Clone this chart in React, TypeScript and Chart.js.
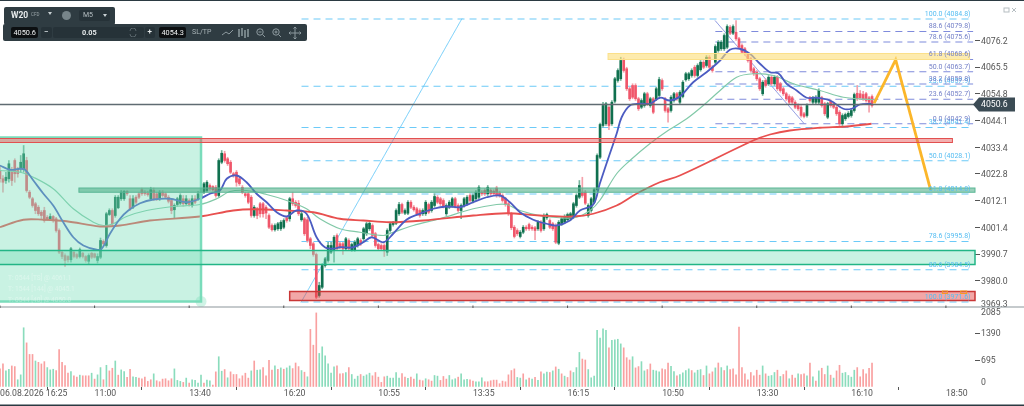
import React, { useEffect, useRef } from "react";
import { Chart, registerables } from "chart.js";

Chart.register(...registerables);

const opens = [
4024.2,4020.9,4020.2,4020.9,4023.5,4028.2,4024.2,4024.9,4024.9,4028.2,
4015.5,4012.9,4010.9,4009.5,4007.5,4008.2,4005.5,4004.9,4005.8,4004.9,
4000.2,3991.5,3990.2,3989.8,3988.5,3991.5,3990.6,3989.8,3991.1,3989.8,
3987.9,3991.1,3990.9,3988.2,3989.5,3995.9,3994.2,4006.6,4008.2,4006.2,
4009.3,4012.9,4012.9,4015.8,4012.9,4009.5,4013.5,4014.9,4016.5,4015.5,
4015.2,4012.9,4016.2,4014.9,4012.9,4015.5,4014.9,4013.5,4012.2,4008.5,
4010.6,4011.1,4012.9,4010.9,4012.2,4010.2,4012.9,4012.9,4013.5,4015.5,
4016.2,4018.2,4017.8,4017.5,4014.2,4027.5,4030.9,4028.9,4027.5,4022.9,
4023.5,4020.9,4017.5,4014.9,4014.9,4013.5,4006.2,4008.9,4010.9,4010.9,
4009.5,4006.2,4002.2,4000.5,4000.9,4000.9,4001.5,4005.3,4004.9,4012.9,
4011.5,4011.1,4004.5,4004.9,4004.5,3996.9,3994.9,3990.6,3974.2,3977.5,
3986.2,3988.2,3991.5,3992.2,3998.2,3994.9,3994.9,3992.9,3996.2,3992.5,
3992.5,3994.2,3996.2,3996.9,3998.9,4000.9,4002.2,3998.9,3994.6,3994.2,
3994.2,3991.5,4000.2,4002.6,4003.1,4006.9,4010.6,4007.1,4007.1,4011.5,
4009.5,4008.9,4008.2,4006.9,4006.9,4010.6,4008.2,4010.2,4013.5,4012.9,
4012.2,4006.9,4009.5,4010.2,4012.9,4010.2,4008.2,4010.2,4010.9,4014.2,
4011.9,4012.9,4013.5,4015.5,4016.2,4014.9,4016.2,4015.9,4017.2,4015.2,
4014.2,4012.9,4010.9,4006.9,4001.5,4000.2,3997.8,3999.5,4001.5,4002.6,
4001.5,4001.3,4000.9,4003.5,4000.9,4005.3,4004.2,4002.9,4002.2,3995.1,
4002.9,4003.5,4004.5,4004.9,4005.5,4010.2,4013.5,4015.5,4015.5,4006.2,
4008.2,4011.5,4016.5,4029.5,4042.2,4042.9,4049.5,4042.9,4051.9,4060.2,
4060.9,4068.5,4064.9,4056.9,4058.2,4058.2,4052.9,4049.5,4050.2,4054.9,
4050.2,4052.9,4052.9,4054.2,4060.2,4052.9,4048.9,4048.2,4052.2,4054.9,
4051.5,4053.8,4060.5,4060.9,4062.2,4065.5,4062.2,4064.5,4067.5,4066.2,
4069.5,4065.5,4067.5,4072.2,4072.9,4072.9,4073.5,4081.5,4079.1,4079.5,
4076.9,4074.2,4072.9,4070.9,4068.9,4064.9,4063.5,4060.9,4054.9,4060.2,
4058.9,4061.5,4058.9,4061.5,4058.9,4056.9,4054.9,4053.8,4053.3,4051.5,
4050.2,4049.5,4046.9,4046.2,4053.3,4051.5,4051.5,4051.5,4053.3,4050.9,
4045.5,4051.9,4050.9,4049.5,4047.5,4042.9,4044.9,4045.8,4046.2,4048.2,
4055.1,4054.9,4054.6,4054.9,4053.3,4053.8];

const closes = [
4020.9,4019.5,4021.5,4026.9,4020.2,4022.9,4022.9,4027.5,4030.9,4016.2,
4013.5,4010.2,4008.2,4006.9,4006.2,4004.2,4004.9,4005.8,4004.5,4000.2,
3991.5,3989.8,3988.2,3988.5,3992.9,3989.8,3989.5,3992.5,3989.8,3988.2,
3990.2,3989.5,3989.5,3989.8,3996.2,3994.9,4006.9,4008.2,4002.9,4013.5,
4013.5,4015.5,4015.8,4014.9,4008.9,4012.9,4011.5,4013.5,4014.9,4014.9,
4014.5,4016.5,4012.9,4012.9,4015.5,4014.2,4013.5,4011.9,4008.2,4010.2,
4012.9,4014.2,4010.9,4012.9,4010.6,4012.9,4011.5,4014.9,4015.5,4018.9,
4019.5,4016.9,4016.5,4014.2,4028.2,4031.1,4028.2,4026.9,4023.5,4022.2,
4019.5,4018.9,4015.5,4014.2,4011.5,4006.2,4009.5,4006.2,4006.9,4006.9,
4007.2,4001.5,4000.5,4002.2,4002.9,4003.5,4004.2,4004.2,4012.9,4010.9,
4010.2,4006.9,4006.9,3998.9,3996.2,3994.2,3990.6,3973.5,3978.2,3986.2,
3988.9,3994.2,3994.2,3997.5,3992.9,3993.5,3992.9,3996.9,3992.9,3994.6,
3995.5,3996.9,3994.9,4000.9,4002.9,4003.1,3998.2,3994.2,3992.9,3992.9,
3992.2,4000.2,4002.9,4003.1,4008.2,4010.6,4007.5,4008.2,4011.5,4009.5,
4008.5,4006.9,4006.2,4008.2,4011.5,4007.5,4011.5,4013.8,4011.5,4010.9,
4009.8,4010.2,4011.5,4012.9,4009.8,4008.2,4010.2,4012.9,4013.5,4012.2,
4014.2,4015.5,4017.5,4014.9,4014.9,4017.5,4014.9,4014.9,4014.2,4014.2,
4012.2,4010.6,4006.9,4001.3,3997.8,3998.9,3999.5,4001.5,4000.9,4000.9,
4000.9,4000.2,4003.5,4000.2,4006.2,4006.6,4001.5,4000.9,3995.5,4003.5,
4004.9,4005.8,4006.6,4006.9,4010.9,4014.2,4018.2,4014.2,4011.1,4010.2,
4012.9,4016.5,4030.2,4042.6,4050.2,4050.9,4042.2,4051.5,4060.9,4064.2,
4068.2,4064.2,4056.9,4052.9,4053.5,4052.9,4048.9,4052.2,4054.9,4050.9,
4052.9,4047.5,4056.9,4060.6,4056.9,4048.2,4047.5,4053.5,4054.9,4052.9,
4055.5,4059.5,4062.9,4062.9,4064.2,4062.2,4066.2,4067.5,4065.5,4069.5,
4065.5,4064.2,4073.8,4075.5,4075.5,4078.2,4081.8,4079.1,4081.8,4076.9,
4073.5,4071.5,4070.9,4068.2,4064.2,4062.9,4060.9,4056.9,4059.5,4058.2,
4061.5,4058.9,4061.5,4056.9,4056.2,4054.9,4052.9,4051.5,4051.5,4049.5,
4048.9,4046.2,4045.8,4050.2,4052.2,4053.3,4053.5,4056.2,4050.2,4046.9,
4050.9,4050.2,4049.5,4046.9,4042.9,4046.2,4046.6,4047.1,4048.2,4054.6,
4052.9,4053.3,4052.9,4052.2,4051.5,4050.2];

const highs = [
4026.2,4022.2,4023.5,4028.2,4025.5,4028.9,4025.5,4030.2,4034.2,4029.5,
4016.2,4013.5,4011.5,4010.2,4008.2,4009.5,4006.2,4006.9,4006.2,4005.5,
4000.9,3992.2,3990.9,3990.2,3993.5,3992.2,3991.2,3993.2,3991.5,3990.2,
3990.9,3991.5,3991.2,3990.9,3997.2,3996.5,4007.5,4008.9,4008.9,4014.2,
4014.2,4016.2,4016.2,4016.2,4014.2,4014.2,4014.2,4015.5,4017.2,4016.2,
4015.9,4017.5,4017.2,4015.5,4016.2,4016.2,4015.5,4014.2,4012.9,4010.9,
4013.5,4014.9,4014.2,4014.2,4012.9,4014.2,4014.2,4015.9,4016.2,4019.5,
4020.2,4018.9,4018.2,4018.2,4028.9,4032.2,4031.9,4029.5,4028.2,4023.5,
4024.2,4021.5,4018.2,4015.5,4015.5,4014.2,4010.2,4009.5,4011.5,4011.5,
4010.2,4006.9,4002.9,4002.9,4003.5,4004.2,4004.9,4005.9,4013.5,4015.5,
4012.2,4012.2,4007.5,4005.5,4005.5,3997.5,3995.5,3991.2,3979.5,3986.9,
3989.5,3995.5,3995.5,3998.2,3998.9,3995.5,3995.5,3997.5,3996.9,3995.2,
3996.2,3997.5,3996.9,4001.5,4003.5,4003.9,4002.9,3999.5,3995.2,3994.9,
3994.9,4000.9,4003.5,4003.9,4008.9,4011.5,4011.2,4008.9,4012.2,4012.2,
4010.2,4009.5,4008.9,4008.9,4012.2,4011.2,4012.2,4014.9,4014.2,4013.5,
4012.9,4010.9,4012.2,4013.5,4013.5,4010.9,4010.9,4013.5,4014.2,4014.9,
4014.9,4016.2,4018.2,4016.2,4016.9,4018.2,4016.9,4016.5,4017.9,4015.9,
4014.9,4013.5,4011.5,4007.5,4002.2,4000.9,4000.2,4002.2,4002.2,4003.2,
4002.2,4001.9,4004.2,4004.2,4006.9,4007.2,4004.9,4003.5,4002.9,4004.2,
4005.5,4006.5,4007.2,4007.5,4011.5,4014.9,4020.2,4021.5,4016.2,4010.9,
4013.5,4017.2,4030.9,4043.2,4051.5,4051.5,4050.2,4052.2,4061.5,4064.9,
4069.5,4069.2,4065.5,4057.5,4058.9,4058.9,4053.5,4052.9,4055.5,4055.5,
4053.5,4053.5,4057.5,4061.5,4060.9,4053.5,4049.5,4054.2,4055.5,4055.5,
4056.2,4060.2,4063.5,4063.5,4064.9,4066.2,4066.9,4068.2,4068.2,4070.2,
4070.2,4066.2,4074.5,4076.2,4076.2,4078.9,4082.5,4082.2,4082.5,4084.2,
4077.5,4074.9,4073.5,4071.5,4069.5,4065.5,4064.2,4061.5,4060.2,4060.9,
4062.2,4062.2,4062.2,4062.2,4059.5,4057.5,4055.5,4054.5,4053.9,4052.2,
4050.9,4050.2,4047.5,4050.9,4053.9,4053.9,4054.2,4056.9,4053.9,4051.5,
4051.5,4052.5,4051.5,4050.2,4048.2,4046.9,4047.2,4047.8,4048.9,4055.2,
4058.2,4056.2,4055.9,4055.5,4053.9,4054.5];

const lows = [
4019.5,4015.5,4019,4019.5,4018.2,4019.5,4021.5,4023.5,4023.5,4015.5,
4012.9,4009.5,4006.9,4006.2,4004.9,4003.5,4004.2,4004.2,4003.5,3999.5,
3990.9,3988.9,3985.8,3987.5,3987.5,3989.2,3988.9,3989.2,3989.2,3987.5,
3986.9,3988.9,3989.2,3987.2,3988.9,3994.2,3993.5,4006.2,4002.2,4005.5,
4008.9,4012.2,4012.2,4014.2,4008.2,4008.9,4010.9,4012.9,4014.2,4014.2,
4013.9,4012.2,4012.2,4012.2,4012.2,4013.5,4012.9,4011.2,4006.9,4005.3,
4009.9,4010.5,4009.9,4010.2,4009.9,4009.5,4010.9,4012.2,4012.9,4014.9,
4015.5,4016.2,4015.9,4013.5,4013.5,4026.9,4027.5,4026.2,4022.9,4021.5,
4017.9,4018.2,4014.9,4013.5,4010.9,4005.5,4005.5,4004.9,4005.5,4005.5,
4004.9,4000.9,3999.9,3999.9,4000.2,4000.2,4000.9,4003.5,4003.9,4010.2,
4009.5,4006.2,4003.9,3998.2,3995.5,3992.9,3989.9,3972.9,3973.5,3976.9,
3985.5,3987.5,3990.9,3987.5,3992.2,3992.9,3990.6,3992.2,3992.2,3991.9,
3991.9,3993.5,3994.2,3996.2,3998.2,4000.2,3997.5,3993.5,3992.2,3992.2,
3989.8,3990.2,3999.5,4001.9,4002.5,4006.2,4006.9,4006.5,4006.5,4008.9,
4007.9,4006.2,4005.5,4006.2,4006.2,4006.9,4007.5,4009.5,4010.9,4010.2,
4009.2,4006.2,4008.9,4009.5,4009.2,4007.5,4004.9,4009.5,4010.2,4011.5,
4011.2,4012.2,4012.9,4014.2,4014.2,4014.2,4014.2,4014.2,4013.5,4013.5,
4011.5,4009.9,4006.2,4000.5,3997.2,3998.2,3997.2,3998.9,4000.2,4000.2,
4000.2,3996.5,4000.2,3999.5,4000.2,4004.6,4000.9,4000.2,3994.9,3994.5,
4002.2,4002.9,4003.9,4004.2,4004.9,4009.5,4012.9,4013.5,4010.5,4005.5,
4007.5,4010.9,4015.9,4028.9,4041.5,4042.2,4040.5,4042.2,4051.2,4059.5,
4060.2,4063.5,4056.2,4052.2,4052.9,4052.2,4048.2,4048.9,4049.5,4050.2,
4049.5,4046.9,4052.2,4053.5,4056.2,4047.5,4043.5,4047.5,4051.5,4052.2,
4050.9,4053.2,4059.9,4060.2,4061.5,4061.5,4061.5,4063.9,4064.9,4065.5,
4064.9,4063.5,4066.9,4071.5,4072.2,4072.2,4072.9,4078.5,4078.5,4076.2,
4072.9,4070.9,4070.2,4067.5,4063.5,4062.2,4060.2,4056.2,4054.2,4057.5,
4058.2,4058.2,4058.2,4056.2,4055.5,4054.2,4052.2,4050.9,4050.9,4048.9,
4048.2,4045.5,4045.2,4045.5,4051.5,4050.9,4050.9,4050.9,4049.5,4046.2,
4044.9,4049.5,4048.9,4046.2,4042.2,4042.2,4044.2,4045.2,4045.5,4047.5,
4052.2,4052.5,4052.2,4051.5,4047.5,4049.5];

const volumes = [
472,601,420,463,549,532,189,317,1544,1150,849,849,678,643,601,661,506,446,463,429,
978,643,558,360,403,292,257,309,292,292,292,360,206,317,506,189,566,420,489,678,
309,446,403,249,463,266,249,232,215,257,146,189,343,163,137,206,215,163,215,472,
172,146,120,232,103,189,172,103,309,103,180,163,51,395,789,412,455,240,395,326,
326,215,292,360,232,420,678,438,446,506,292,695,438,549,463,498,463,498,549,480,
626,532,429,386,266,1502,1090,1931,875,1047,815,601,360,523,549,
343,352,378,506,326,206,283,326,283,317,360,292,378,257,120,266,283,232,232,378,
232,352,257,223,257,206,343,180,163,215,189,154,300,283,172,275,206,300,189,215,
257,343,189,197,189,154,137,137,240,137,137,163,180,180,86,154,137,317,429,472,
249,232,343,189,232,206,249,172,395,343,386,378,420,523,463,343,283,249,420,378,
506,901,729,704,455,240,283,1476,1278,1519,1476,1021,1218,1227,1244,1124,1021,764,704,789,
498,532,661,420,455,601,438,420,395,472,455,626,541,403,292,
326,369,429,472,429,369,438,455,300,549,343,395,498,626,506,429,549,455,472,317,
1562,506,343,189,378,292,438,309,549,343,283,300,378,438,275,326,420,215,309,232,
343,326,343,292,626,266,154,420,489,326,549,309,232,420,566,360,378,300,257,438,
506,266,455,343,489,626];

const volumeDirs =
  "rrggrrgggr" + "rrgrrrgggr" + "rrrrgrrgrr" + "rgrggrgrrg" + "rggrrggrrr" +
  "rrgrrrrrrg" + "ggrgrggggr" + "ggrrggrgrr" + "rrrrrgrggr" + "rrrgrgrggr" +
  "rrgrgrrrgg" + "ggggr" +
  "rrgrgggrgg" + "grrrrrgggg" + "grrgrrgrrg" + "rrggrrrggg" + "rgggrrgggr" +
  "rrrrrrrrrr" + "ggrgrgrgrg" + "grgrgrgrrg" + "ggrrgggggg" + "grggggrrrg" +
  "rrggrrgggr" + "rrggr" +
  "ggggrgggrg" + "rrgrgrgrrr" + "rrrrrrrrgr" + "gggrgrrgrr" + "grrgrgrgrr" +
  "grgrrggggg" + "rrrrrr";

const fastX = [0,3.4,6.8,8.5,11.3,14.7,18,21.4,24.8,28.2,32.7,34.4,37.2,40.6,43.4,47.4,51.9,57.5,63.1,67.6,71,74.4,76.7,80,83.4,86.8,90.2,93.6,97,100.3,103.7,107.1,109.9,112.7,115,119.5,122.9,125.7,129.7,133,137.5,142,146.6,151,155.6,160.1,164.6,169.1,172.5,175.9,180.4,184.9,188.3,192.8,196.2,200.7,202.9,206.3,208.6,210.3,213.1,216.5,219.9,223.3,226.6,230,234.5,239,243.6,246.9,250.3,253.7,257.1,260.5,263.3,266.1,269.5,272.9,276.2,280.8,285.3,288.1,290.9,294.8];
const fastY = [4026.2,4024.5,4024.9,4024.5,4020.2,4014.9,4010.2,4003.5,3997.5,3994.2,3992.5,3992.9,3998.9,4004.9,4008.2,4011.1,4012.6,4012.9,4011.5,4012.9,4014.9,4016.2,4020.9,4022.2,4019.5,4014.9,4011.5,4007.5,4005.8,4008.2,4006.9,3997.5,3993.5,3992.9,3993.5,3993.5,3995.5,3997.5,3995.5,3998.9,4004.5,4006.9,4008.9,4009.8,4009.5,4011.5,4013.5,4014.2,4011.5,4007.5,4004.5,4002.9,4002.2,4004.2,4008.2,4010.6,4018.9,4030.9,4038.9,4045.5,4050.2,4050.9,4050.9,4053.3,4052.2,4053.8,4059.5,4063.5,4068.2,4072.5,4072.9,4070.9,4066.9,4063.5,4063.1,4058.9,4056.2,4053.3,4053.3,4052.2,4048.9,4048.9,4050.6,4050.9];

const midX = [0,6.8,11.3,18,24.8,31.6,35,38.3,42.8,49.6,58.6,67.6,73.3,77.8,83.4,90.2,97,103.7,108.2,115,121.8,129.7,133,139.8,148.8,160.1,168,171.4,175.9,182.6,189.4,195,199.6,202.9,208.6,213.1,219.8,226,232.3,237.9,243.6,249.2,254.8,261.6,268.4,277.4,285.3,295.4];
const midY = [4024.2,4023.5,4021.5,4016.9,4008.9,4003.5,4002.2,4002.9,4005.8,4008.2,4009.8,4010.6,4012.9,4015.8,4016.2,4014.6,4012.2,4008.9,4004.9,4000.9,3999.5,3998.2,3999.5,4002.2,4004.9,4008.9,4010.6,4010.6,4008.2,4006.2,4005.3,4005.5,4008.2,4012.2,4022.9,4028.2,4034.9,4040.2,4044.9,4050.2,4056.2,4061.5,4062.9,4062.2,4058.9,4056.2,4053.5,4052.5];

const slowX = [0,7.9,14.7,22.5,33.8,40.6,50.7,67.6,78.9,85.7,97,106,115,122.9,131.9,143.2,160.1,171.4,182.6,193.9,200.7,208.6,215.3,223.2,230,254.8,260.5,267.2,277.4,286.4,294.8];
const slowY = [4001.5,4004.5,4004.5,4003.9,4001.8,4002.2,4004.2,4005.8,4008.2,4008.7,4008.2,4007.5,4004.9,4004.2,4003.5,4004.2,4006.2,4007.1,4006.2,4005.8,4006.9,4010.2,4014.9,4019.5,4022.2,4036.2,4038.6,4040.2,4041.3,4041.8,4042.9];

const forecastX = [295.7, 303, 314.8];
const forecastY = [4051.1, 4068.5, 4016.5];

const priceTicks = [4076.2,4065.5,4054.8,4044.1,4033.4,4022.8,4012.1,4001.4,3990.7,3980.0,3969.3];
const volumeTicks = [2085,1390,695,0];
const timeTicks = [0,32,64,96,128,160,192,224,256,288,320];
const timeLabels = ["06.08.2026 16:25","11:00","13:40","16:20","10:55","13:35","16:15","10:50","13:30","16:10","18:50"];

const skyLevels = ["100.0","61.8","50.0","38.2","23.6","78.6","88.6","100.0"];
const skyPrices = [4084.8,4014.8,4028.1,4041.4,4057.9,3995.8,3984.5,3971.6];
const periLevels = ["88.6","78.6","61.8","50.0","38.2","23.6","0.0"];
const periPrices = [4079.8,4075.6,4068.6,4063.7,4058.8,4052.7,4042.9];
const positionNotes = ["T: 0544 [TS] @ 4061.1", "T: 1544 [144] @ 4045.1", "T: 0544 [40] @ 4050.0"];

const lastPrice = 4050.6;
const GREEN = "#10704f", RED = "#f0566a", GREEN_W = "#74b49c", RED_W = "#f4a0aa";
const SKY = "#6ccaf8", PERI = "#7f8bdc";
const PX_PER_BAR = 2.956;
const X_MAX = 975 / PX_PER_BAR;

const rects = [
  { x0: -3, x1: 68, y0: 4037.4, y1: 3971.8, fill: "rgba(120,222,184,0.40)", stroke: "#7adcbb", lw: 2.5 },
  { x0: -3, x1: 322.2, y0: 4037, y1: 4035.4, fill: "rgba(226,80,80,0.45)", stroke: "#e25050", lw: 1 },
  { x0: 26.7, x1: X_MAX, y0: 4017.2, y1: 4015.5, fill: "rgba(70,170,130,0.55)", stroke: "#5ab795", lw: 1 },
  { x0: -3, x1: X_MAX, y0: 3992.2, y1: 3986.6, fill: "rgba(120,222,184,0.40)", stroke: "#22b586", lw: 1.5 },
  { x0: 98, x1: X_MAX, y0: 3975.8, y1: 3972.2, fill: "rgba(226,60,60,0.45)", stroke: "#c93636", lw: 1.5 },
  { x0: 205.7, x1: 328, y0: 4071, y1: 4068.6, fill: "rgba(252,222,120,0.6)", stroke: "#fbe08a", lw: 1 },
];

const overlayPlugin = {
  id: "overlay",
  beforeDraw(chart: any) {
    const shifts: Record<string, [string, number]> = {
      "3969.3": ["yPrice", -2.8],
      "2085": ["yVol", 5.7],
      "0": ["yVol", -4],
    };
    for (const id of ["yPrice", "yVol"]) {
      const scale = chart.scales[id];
      for (const item of scale.getLabelItems(chart.chartArea)) {
        const s = shifts[item.label];
        const base = scale.getPixelForValue(Number(item.label));
        if (s && s[0] === id) {
          item.options.translation[1] = base + s[1];
        } else if (id === "yPrice") {
          item.options.translation[1] = base + 1;
        }
      }
    }
  },
  afterDatasetsDraw(chart: any) {
    const { ctx } = chart;
    const x = chart.scales.x, y = chart.scales.yPrice;
    ctx.save();
    ctx.beginPath();
    ctx.rect(0, 0, chart.width, chart.height);
    ctx.clip();
    for (const r of rects) {
      const px0 = x.getPixelForValue(r.x0), px1 = x.getPixelForValue(r.x1);
      const py0 = y.getPixelForValue(r.y0), py1 = y.getPixelForValue(r.y1);
      ctx.fillStyle = r.fill;
      ctx.fillRect(px0, py0, px1 - px0, py1 - py0);
      ctx.strokeStyle = r.stroke;
      ctx.lineWidth = r.lw;
      ctx.strokeRect(px0, py0, px1 - px0, py1 - py0);
    }
    // selection handle at the zone's corner
    ctx.fillStyle = "rgba(120,222,184,0.35)";
    ctx.beginPath();
    ctx.arc(x.getPixelForValue(68), y.getPixelForValue(3971.8), 5.5, 0, Math.PI * 2);
    ctx.fill();
    // notes inside the zone
    ctx.font = "6.5px Roboto";
    ctx.textAlign = "left";
    ctx.textBaseline = "middle";
    ctx.fillStyle = "rgba(255,255,255,0.35)";
    positionNotes.forEach((n, i) => ctx.fillText(n, 8, 278 + i * 11));
    // last price line
    const py = y.getPixelForValue(lastPrice);
    ctx.strokeStyle = "#5f6b72";
    ctx.lineWidth = 1.6;
    ctx.beginPath();
    ctx.moveTo(0, py);
    ctx.lineTo(x.right, py);
    ctx.stroke();
    // fib labels
    ctx.font = "7px Roboto";
    ctx.textAlign = "right";
    ctx.fillStyle = "#55bdf2";
    skyLevels.forEach((l, i) => {
      ctx.fillText(`${l} (${skyPrices[i].toFixed(1)})`, 970.5, y.getPixelForValue(skyPrices[i]) - 5);
    });
    ctx.fillStyle = "#7480c8";
    periLevels.forEach((l, i) => {
      ctx.fillText(`${l} (${periPrices[i].toFixed(1)})`, 970.5, y.getPixelForValue(periPrices[i]) - 5);
    });
    // orange order markers on the lower red band
    ctx.strokeStyle = "#f59a23";
    ctx.lineWidth = 1;
    ctx.strokeRect(x.getPixelForValue(318.8), y.getPixelForValue(3976), 5, 2.5);
    ctx.strokeRect(x.getPixelForValue(325), y.getPixelForValue(3976), 6, 2.5);
    // pane divider with x ticks
    const paneY = y.bottom;
    ctx.strokeStyle = "#8b959a";
    ctx.lineWidth = 1;
    ctx.beginPath();
    ctx.moveTo(0, paneY);
    ctx.lineTo(chart.width, paneY);
    ctx.stroke();
    ctx.strokeStyle = "#555";
    for (const t of timeTicks) {
      const tx = x.getPixelForValue(t);
      ctx.beginPath();
      ctx.moveTo(tx, paneY - 1.5);
      ctx.lineTo(tx, paneY + 1);
      ctx.stroke();
    }
    // last price tag
    ctx.fillStyle = "#3b4b54";
    ctx.beginPath();
    ctx.moveTo(973, py);
    ctx.lineTo(979, py - 7);
    ctx.lineTo(1015, py - 7);
    ctx.lineTo(1015, py + 7);
    ctx.lineTo(979, py + 7);
    ctx.closePath();
    ctx.fill();
    ctx.fillStyle = "#fff";
    ctx.font = "8.7px Roboto";
    ctx.textAlign = "left";
    ctx.fillText(lastPrice.toFixed(1), 981, py + 0.5);
    // frame
    ctx.fillStyle = "#2b3a42";
    ctx.fillRect(0, 0, chart.width, 1);
    ctx.fillRect(0, chart.height - 1.5, chart.width, 1.5);
    ctx.restore();
  },
};

function Toolbar() {
  const base: React.CSSProperties = { position: "absolute", fontFamily: "Roboto, sans-serif", lineHeight: 1, whiteSpace: "nowrap" };
  const box = (l: number, t: number, w: number, h: number, bg: string): React.CSSProperties => ({
    ...base, left: l, top: t, width: w, height: h, background: bg, borderRadius: 2,
  });
  const label = (l: number, t: number, size: number, color: string, bold = false): React.CSSProperties => ({
    ...base, left: l, top: t, fontSize: size, color, fontWeight: bold ? 700 : 400,
  });
  const tri = (l: number, t: number): React.CSSProperties => ({
    ...base, left: l, top: t, width: 0, height: 0,
    borderLeft: "2.5px solid transparent", borderRight: "2.5px solid transparent", borderTop: "3px solid #c8d0d3",
  });
  const icon = { stroke: "#8d9a9f", fill: "none", strokeWidth: 1 };
  return (
    <>
      <div style={box(4, 7, 111, 18, "#2f3c42")} />
      <div style={box(3, 24, 304, 17, "#2f3c42")} />
      <span style={label(11, 11, 8.5, "#e6eaeb", true)}>W20</span>
      <span style={label(31, 13, 4.5, "#9aa5a9")}>CFD</span>
      <div style={tri(48, 12)} />
      <div style={{ ...box(62, 11, 9, 9, "#77858a"), borderRadius: "50%" }} />
      <div style={box(79, 10, 31, 11, "#263238")} />
      <span style={label(83, 12, 7, "#b6bfc3")}>M5</span>
      <div style={tri(103, 14)} />
      <div style={box(11, 27, 27, 11, "#0c0f11")} />
      <span style={label(13.5, 29, 7.3, "#f2f4f5")}>4050.6</span>
      <div style={box(41, 27, 11, 11, "#263238")} />
      <span style={label(44, 28, 8, "#c9d0d3", true)}>−</span>
      <div style={box(53, 27, 91, 11, "#263238")} />
      <span style={label(82, 29, 7.3, "#e6eaeb", true)}>0.05</span>
      <div style={box(145, 27, 10, 11, "#263238")} />
      <span style={label(147.5, 28, 8, "#e6eaeb", true)}>+</span>
      <div style={box(159, 27, 27, 11, "#0c0f11")} />
      <span style={label(161.5, 29, 7.3, "#f2f4f5")}>4054.3</span>
      <span style={label(192, 29, 7, "#aab4b8")}>SL/TP</span>
      <svg style={{ position: "absolute", left: 128, top: 28 }} width="10" height="9" stroke="#5a676c" fill="none" strokeWidth="1">
        <path d="M2 3 A3 3 0 0 1 8 3 M8 6 A3 3 0 0 1 2 6" />
      </svg>
      <svg style={{ position: "absolute", left: 220, top: 26 }} width="90" height="14" {...icon}>
        <path d="M2 9 L6 6 L9 8 L13 4" />
        <path d="M19 3 V11 M22 2 V10 M25 4 V12 M28 3 V11" strokeWidth="1.5" />
        <circle cx="40" cy="6" r="3.2" />
        <path d="M42.5 8.5 L45 11 M38.5 6 H41.5" />
        <circle cx="56" cy="6" r="3.2" />
        <path d="M58.5 8.5 L61 11 M54.5 6 H57.5 M56 4.5 V7.5" />
        <path d="M75 1 V13 M69 7 H81 M73.5 2.5 L75 1 L76.5 2.5 M73.5 11.5 L75 13 L76.5 11.5 M70.5 5.5 L69 7 L70.5 8.5 M79.5 5.5 L81 7 L79.5 8.5" />
      </svg>
      <svg style={{ position: "absolute", left: 1003, top: 7 }} width="14" height="7" stroke="#b5bdc1" fill="none" strokeWidth="1">
        <rect x="1" y="1" width="5" height="4" />
        <path d="M9 1 L13 5 M13 1 L9 5" />
      </svg>
    </>
  );
}

const noPadding = (s: any) => {
  s.paddingTop = 0;
  s.paddingBottom = 0;
  s.paddingLeft = 0;
  s.paddingRight = 0;
};

export default function App() {
  const ref = useRef<HTMLCanvasElement>(null);
  useEffect(() => {
    const up = opens.map((o, i) => closes[i] >= o);
    const line = (xs: number[], ys: number[], color: string, width: number, order: number, dash?: number[]) => ({
      type: "line" as const,
      data: xs.map((x, i) => ({ x, y: ys[i] })),
      borderColor: color,
      borderWidth: width,
      borderDash: dash || [],
      pointRadius: 0,
      tension: dash ? 0 : 0.35,
      order,
      xAxisID: "x",
      yAxisID: "yPrice",
    });
    const chart = new Chart(ref.current!, {
      type: "bar",
      data: {
        datasets: [
          {
            data: volumes.map((v, i) => ({ x: i, y: v })),
            backgroundColor: volumes.map((_, i) => (volumeDirs[i] === "g" ? "#8adcbc" : "#f9a0a0")),
            barThickness: 1,
            grouped: false,
            order: 60,
            xAxisID: "x",
            yAxisID: "yVol",
          },
          ...skyPrices.map((p) => line([102, 329.2], [p, p], SKY, 1.2, 50, [7, 5])),
          ...periPrices.map((p) => line([242, 329.2], [p, p], PERI, 1.2, 50, [7, 5])),
          line([101.8, 156.3], [3971.4, 4085], SKY, 1, 50, [1, 0]),
          line([241.9, 272], [4084.2, 4043], PERI, 1, 50, [1, 0]),
          {
            data: lows.map((l, i) => ({ x: i, y: [l, highs[i]] })),
            backgroundColor: up.map((u) => (u ? GREEN_W : RED_W)),
            barThickness: 1,
            grouped: false,
            order: 40,
            xAxisID: "x",
            yAxisID: "yPrice",
          },
          {
            data: opens.map((o, i) => ({ x: i, y: [o, closes[i]] })),
            backgroundColor: up.map((u) => (u ? GREEN : RED)),
            barThickness: 2,
            grouped: false,
            order: 30,
            xAxisID: "x",
            yAxisID: "yPrice",
          },
          line(midX, midY, "#82c9a8", 1.2, 22),
          line(slowX, slowY, "#e8504f", 1.8, 21),
          line(fastX, fastY, "#4c5cc2", 1.8, 20),
          line(forecastX, forecastY, "#fbb62a", 2.8, 10, [1, 0]),
        ] as any,
      },
      options: {
        responsive: false,
        animation: false,
        layout: { padding: 0 },
        plugins: { legend: { display: false }, tooltip: { enabled: false } },
        scales: {
          x: {
            type: "linear",
            min: 0,
            max: X_MAX,
            offset: false,
            afterFit: (s: any) => { s.height = 19; noPadding(s); },
            afterBuildTicks: (s: any) => { s.ticks = timeTicks.map((value) => ({ value })); },
            border: { display: false },
            grid: { drawOnChartArea: false, tickLength: 3, tickColor: "#555" },
            ticks: {
              autoSkip: false,
              maxRotation: 0,
              align: "start",
              padding: -1,
              color: "#555",
              font: { family: "Roboto", size: 8.7 },
              callback: (v: any) => timeLabels[timeTicks.indexOf(Number(v))],
            },
          },
          yPrice: {
            type: "linear",
            position: "right",
            stack: "panes",
            stackWeight: 307,
            min: 3969.6,
            max: 4092.4,
            afterFit: (s: any) => { s.width = 49; noPadding(s); },
            afterBuildTicks: (s: any) => { s.ticks = priceTicks.map((value) => ({ value })); },
            border: { display: false },
            grid: {
              drawOnChartArea: false,
              tickLength: 5,
              tickColor: (c: any) => (c.tick && c.tick.value === 3969.3 ? "transparent" : "#555"),
            },
            ticks: {
              autoSkip: false,
              padding: 1,
              color: "#555",
              font: { family: "Roboto", size: 8.7 },
              callback: (v: any) => Number(v).toFixed(1),
            },
          },
          yVol: {
            type: "linear",
            position: "right",
            stack: "panes",
            stackWeight: 80,
            min: 0,
            max: 2085,
            afterFit: (s: any) => { s.width = 49; noPadding(s); },
            afterBuildTicks: (s: any) => { s.ticks = volumeTicks.map((value) => ({ value })); },
            border: { display: false },
            grid: {
              drawOnChartArea: false,
              tickLength: 5,
              tickColor: (c: any) => (c.tick && (c.tick.value === 2085 || c.tick.value === 0) ? "transparent" : "#555"),
            },
            ticks: {
              autoSkip: false,
              padding: 1,
              color: "#555",
              font: { family: "Roboto", size: 8.7 },
              callback: (v: any) => String(v),
            },
          },
        },
      } as any,
      plugins: [overlayPlugin],
    });
    return () => chart.destroy();
  }, []);
  return (
    <div style={{ position: "relative", width: 1024, height: 406, overflow: "hidden", background: "#fff" }}>
      <style>{"html,body{margin:0;padding:0;overflow:hidden}"}</style>
      <canvas ref={ref} width={1024} height={406} style={{ display: "block" }} />
      <Toolbar />
    </div>
  );
}
